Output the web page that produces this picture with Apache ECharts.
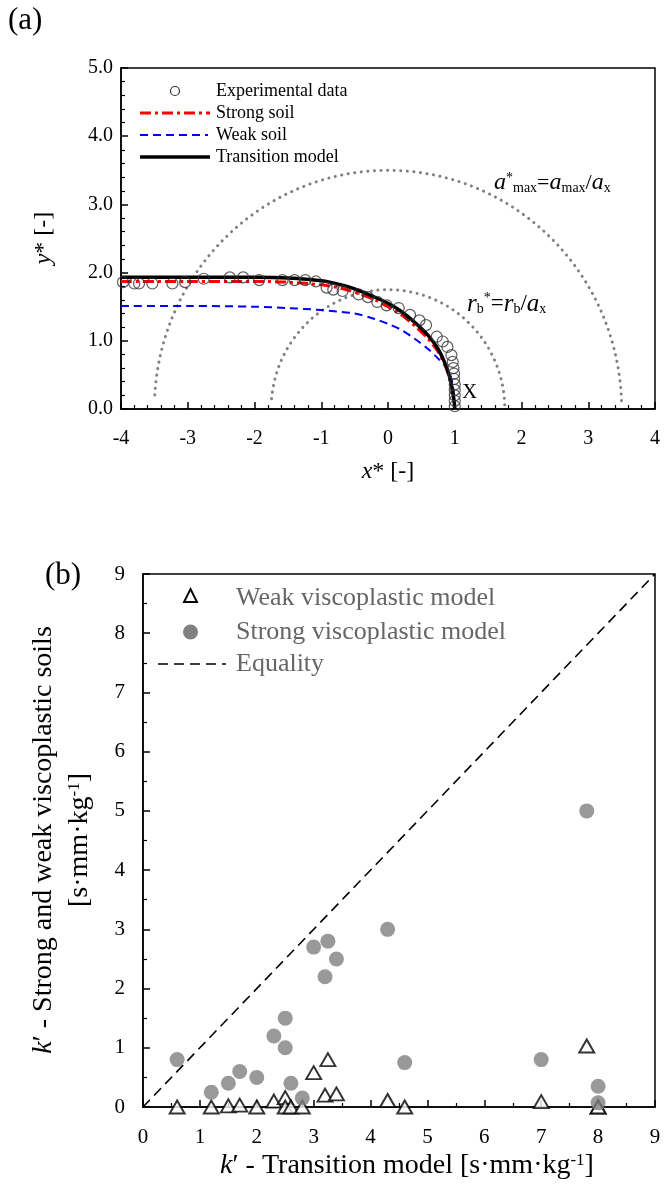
<!DOCTYPE html>
<html><head><meta charset="utf-8">
<script src="https://cdn.jsdelivr.net/npm/echarts@6/dist/echarts.min.js"></script>
<style>html,body{margin:0;padding:0;background:#fff}#c{width:667px;height:1198px}</style>
</head><body><div id="c"></div>
<script>
// ---------- Panel (a) data ----------
const expX = [-3.97,-3.80,-3.73,-3.53,-3.23,-3.04,-2.76,-2.37,-2.17,-1.93,-1.58,-1.40,-1.24,-1.08,-0.92,-0.82,-0.68,-0.44,-0.30,-0.16,-0.02,0.16,0.33,0.47,0.57,0.73,0.82,0.89,0.95,0.97,0.98,0.99,0.99,1.0,1.0,1.0,1.0,1.0];
const expY = [1.86,1.84,1.84,1.84,1.84,1.86,1.91,1.93,1.93,1.89,1.89,1.89,1.89,1.87,1.78,1.75,1.73,1.68,1.64,1.57,1.52,1.48,1.38,1.30,1.23,1.06,0.99,0.91,0.79,0.69,0.60,0.52,0.44,0.36,0.28,0.20,0.12,0.04];
const strongX = [-4,-3,-2,-1.5,-1,-0.7,-0.4,-0.2,0,0.2,0.4,0.6,0.75,0.85,0.92,0.96,0.99,1.0];
const strongY = [1.87,1.87,1.87,1.86,1.82,1.77,1.68,1.60,1.50,1.38,1.22,1.03,0.84,0.65,0.46,0.28,0.10,0];
const weakSoilX = [-4,-3,-2,-1.5,-1,-0.5,-0.2,0,0.2,0.4,0.6,0.75,0.9,0.96,0.99,1.0];
const weakSoilY = [1.51,1.51,1.50,1.48,1.45,1.40,1.32,1.25,1.16,1.03,0.88,0.74,0.57,0.40,0.20,0];
const transX = [-4,-3,-2,-1.5,-1,-0.7,-0.5,-0.2,0,0.2,0.4,0.6,0.75,0.85,0.92,0.96,0.99,1.0];
const transY = [1.93,1.93,1.93,1.92,1.88,1.82,1.76,1.64,1.55,1.43,1.27,1.08,0.88,0.68,0.48,0.30,0.12,0];
const arcRadii = [3.5, 1.75];
// ---------- Panel (b) data ----------
const kTransition = [0.6,1.2,1.5,1.7,2.0,2.3,2.5,2.5,2.6,2.8,3.0,3.25,3.2,3.4,4.3,4.6,7.0,7.8,8.0,8.0];
const kStrong = [0.8,0.25,0.4,0.6,0.5,1.2,1.5,1.0,0.4,0.15,2.7,2.8,2.2,2.5,3.0,0.75,0.8,5.0,0.35,0.07];
const kWeak = [0,0,0.02,0.03,0,0.1,0.16,0,0,0,0.58,0.8,0.2,0.22,0.11,0,0.09,1.03,0,0];
const equality = [0, 9];

const zip = (a, b) => a.map((v, i) => [v, b[i]]);
const arc = r => { const p = []; for (let d = 2; d <= 178; d += 1) { const t = d * Math.PI / 180; p.push([r * Math.cos(t), r * Math.sin(t)]); } return p; };

const F = 'Liberation Serif';
const axisCommon = (min, max, interval, split, fmt, margin, fs) => ({
  type: 'value', min, max, interval,
  axisLine: { show: true, onZero: false, lineStyle: { color: '#000', width: 1.5 } },
  axisTick: { show: true, inside: true, length: 7, lineStyle: { color: '#000', width: 1.5 } },
  minorTick: { show: true, splitNumber: split, length: 4, lineStyle: { color: '#000', width: 1.2 } },
  splitLine: { show: false }, minorSplitLine: { show: false },
  axisLabel: { color: '#000', fontFamily: F, fontSize: fs, margin, formatter: fmt }
});

const chart = echarts.init(document.getElementById('c'), null, { renderer: 'canvas' });
const r = (size, opt) => Object.assign({ fontFamily: F, fontSize: size, fill: '#000', color: '#000' }, opt || {});
const dotted = { color: '#808080', width: 3, type: [0.1, 6.5], cap: 'round' };

chart.setOption({
  animation: false,
  grid: [
    { left: 121, top: 68, width: 534, height: 341, show: true, borderColor: '#000', borderWidth: 1.5 },
    { left: 143, top: 574, width: 512, height: 533, show: true, borderColor: '#000', borderWidth: 1.5 }
  ],
  xAxis: [
    Object.assign(axisCommon(-4, 4, 1, 5, v => String(v), 20, 20), { gridIndex: 0 }),
    Object.assign(axisCommon(0, 9, 1, 2, v => String(v), 20, 21), { gridIndex: 1 })
  ],
  yAxis: [
    Object.assign(axisCommon(0, 5, 1, 5, v => v.toFixed(1), 8, 20), { gridIndex: 0 }),
    Object.assign(axisCommon(0, 9, 1, 2, v => String(v), 18, 21), { gridIndex: 1 })
  ],
  series: [
    { type: 'line', xAxisIndex: 0, yAxisIndex: 0, data: arc(arcRadii[0]), showSymbol: false, lineStyle: dotted, z: 2 },
    { type: 'line', xAxisIndex: 0, yAxisIndex: 0, data: arc(arcRadii[1]), showSymbol: false, lineStyle: dotted, z: 2 },
    { type: 'line', xAxisIndex: 0, yAxisIndex: 0, data: zip(weakSoilX, weakSoilY), showSymbol: false, smooth: 0.3,
      lineStyle: { color: '#0000ff', width: 2, type: [8, 5] }, z: 3 },
    { type: 'line', xAxisIndex: 0, yAxisIndex: 0, data: zip(strongX, strongY), showSymbol: false, smooth: 0.3,
      lineStyle: { color: '#ff0000', width: 3, type: [11, 4, 3, 4] }, z: 4 },
    { type: 'line', xAxisIndex: 0, yAxisIndex: 0, data: zip(transX, transY), showSymbol: false, smooth: 0.3,
      lineStyle: { color: '#000', width: 3.5 }, z: 5 },
    { type: 'scatter', xAxisIndex: 0, yAxisIndex: 0, data: zip(expX, expY), symbol: 'circle', symbolSize: 11,
      itemStyle: { color: 'rgba(255,255,255,0)', borderColor: '#333', borderWidth: 1.2 }, z: 6 },
    // panel (b)
    { type: 'line', xAxisIndex: 1, yAxisIndex: 1, data: [[equality[0], equality[0]], [equality[1], equality[1]]], showSymbol: false,
      lineStyle: { color: '#000', width: 1.6, type: [10, 6] }, z: 2 },
    { type: 'scatter', xAxisIndex: 1, yAxisIndex: 1, data: zip(kTransition, kWeak), symbol: 'triangle', symbolSize: [15, 13],
      itemStyle: { color: '#fff', borderColor: '#000', borderWidth: 1.9 }, z: 3 },
    { type: 'scatter', xAxisIndex: 1, yAxisIndex: 1, data: zip(kTransition, kStrong), symbol: 'circle', symbolSize: 15,
      itemStyle: { color: '#808080' }, z: 4 }
  ],
  graphic: [
    // panel labels
    { type: 'text', x: 8, y: 5, style: { text: '(a)', fontFamily: F, fontSize: 31, fill: '#000' } },
    { type: 'text', x: 45, y: 560, style: { text: '(b)', fontFamily: F, fontSize: 31, fill: '#000' } },
    // panel (a) legend
    { type: 'circle', shape: { cx: 175, cy: 91, r: 4.5 }, style: { fill: 'none', stroke: '#333', lineWidth: 1.2 } },
    { type: 'line', shape: { x1: 140, y1: 113, x2: 210, y2: 113 }, style: { stroke: '#ff0000', lineWidth: 3, lineDash: [11, 4, 3, 4] } },
    { type: 'line', shape: { x1: 140, y1: 135, x2: 208, y2: 135 }, style: { stroke: '#0000ff', lineWidth: 2, lineDash: [8, 5] } },
    { type: 'line', shape: { x1: 140, y1: 157, x2: 210, y2: 157 }, style: { stroke: '#000', lineWidth: 3.5 } },
    { type: 'text', x: 216, y: 91, style: { text: 'Experimental data', fontFamily: F, fontSize: 18, fill: '#000', verticalAlign: 'middle' } },
    { type: 'text', x: 216, y: 113, style: { text: 'Strong soil', fontFamily: F, fontSize: 18, fill: '#000', verticalAlign: 'middle' } },
    { type: 'text', x: 216, y: 135, style: { text: 'Weak soil', fontFamily: F, fontSize: 18, fill: '#000', verticalAlign: 'middle' } },
    { type: 'text', x: 216, y: 157, style: { text: 'Transition model', fontFamily: F, fontSize: 18, fill: '#000', verticalAlign: 'middle' } },
    // annotations
    { type: 'text', x: 494, y: 183, style: {
        text: '{i|a}{sup|*}{sub|max}{n|=}{i|a}{sub|max}{n|/}{i|a}{sub|x}', verticalAlign: 'middle',
        rich: { i: r(24, { fontStyle: 'italic' }), n: r(22), sup: r(14, { verticalAlign: 'top' }), sub: r(14, { verticalAlign: 'bottom' }) } } },
    { type: 'text', x: 467, y: 304, style: {
        text: '{i|r}{sub|b}{sup|*}{n|=}{i|r}{sub|b}{n|/}{i|a}{sub|x}', verticalAlign: 'middle',
        rich: { i: r(25, { fontStyle: 'italic' }), n: r(23), sup: r(14, { verticalAlign: 'top' }), sub: r(14, { verticalAlign: 'bottom' }) } } },
    { type: 'text', x: 462, y: 392, style: { text: 'X', fontFamily: F, fontSize: 21, fill: '#000', verticalAlign: 'middle' } },
    // axis titles (a)
    { type: 'text', x: 388, y: 472, style: { text: '{i|x}{n|* [-]}', align: 'center', verticalAlign: 'middle',
        rich: { i: r(24, { fontStyle: 'italic' }), n: r(24) } } },
    { type: 'text', x: 44, y: 238, rotation: Math.PI / 2, style: { text: '{i|y}{n|* [-]}', align: 'center', verticalAlign: 'middle',
        rich: { i: r(24, { fontStyle: 'italic' }), n: r(24) } } },
    // panel (b) legend
    { type: 'polygon', shape: { points: [[190.5, 589], [197, 602], [184, 602]] }, style: { fill: '#fff', stroke: '#000', lineWidth: 1.9 } },
    { type: 'circle', shape: { cx: 190.5, cy: 632, r: 7.5 }, style: { fill: '#808080' } },
    { type: 'line', shape: { x1: 158, y1: 664, x2: 226, y2: 664 }, style: { stroke: '#000', lineWidth: 1.6, lineDash: [10, 6] } },
    { type: 'text', x: 236, y: 598, style: { text: 'Weak viscoplastic model', fontFamily: F, fontSize: 26, fill: '#666', verticalAlign: 'middle' } },
    { type: 'text', x: 236, y: 632, style: { text: 'Strong viscoplastic model', fontFamily: F, fontSize: 26, fill: '#666', verticalAlign: 'middle' } },
    { type: 'text', x: 236, y: 664, style: { text: 'Equality', fontFamily: F, fontSize: 26, fill: '#666', verticalAlign: 'middle' } },
    // axis titles (b)
    { type: 'text', x: 44, y: 840, rotation: Math.PI / 2, style: { text: '{i|k}{n|′ - Strong and weak viscoplastic soils}', align: 'center', verticalAlign: 'middle',
        rich: { i: r(28, { fontStyle: 'italic' }), n: r(28) } } },
    { type: 'text', x: 80, y: 840, rotation: Math.PI / 2, style: { text: '{n|[s·mm·kg}{sup|-1}{n|]}', align: 'center', verticalAlign: 'middle',
        rich: { n: r(28), sup: r(17, { verticalAlign: 'top' }) } } },
    { type: 'text', x: 407, y: 1166, style: { text: '{i|k}{n|′ - Transition model [s·mm·kg}{sup|-1}{n|]}', align: 'center', verticalAlign: 'middle',
        rich: { i: r(28, { fontStyle: 'italic' }), n: r(28), sup: r(17, { verticalAlign: 'top' }) } } }
  ]
});
</script></body></html>
